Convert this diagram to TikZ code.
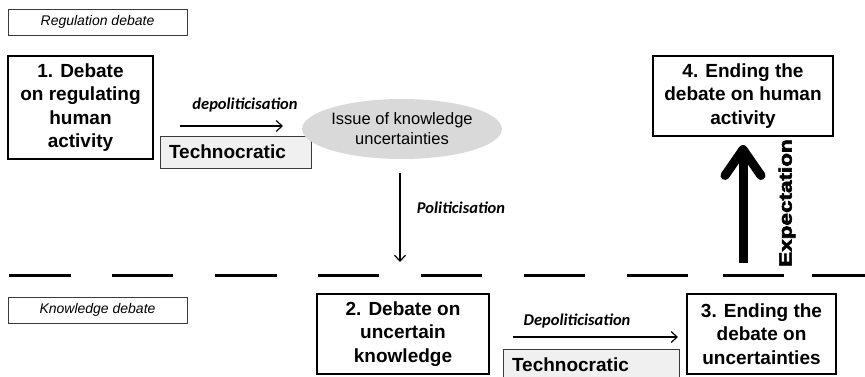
\documentclass[tikz,border=0pt]{standalone}
\usepackage{fontspec}
\setmainfont{Liberation Sans}
\newfontfamily\labelfont{Carlito}
\newfontfamily\heavyfont[FakeBold=3]{Liberation Sans Bold}
\usetikzlibrary{arrows.meta,shapes.geometric}
\definecolor{ellgray}{HTML}{D9D9D9}
\definecolor{techgray}{HTML}{F0F0F0}
\definecolor{edgegray}{HTML}{3A3A3A}
\tikzset{
  tagbox/.style={draw=edgegray,line width=1pt,minimum width=179pt,minimum height=26pt,inner sep=0pt,
    font=\fontsize{14}{16}\selectfont\itshape},
  stagebox/.style={draw=black,line width=2pt,inner sep=0pt,align=center,
    font=\fontsize{19}{23.5}\selectfont\bfseries},
  techbox/.style={draw=edgegray,fill=techgray,line width=1pt,minimum width=176pt,minimum height=32pt,
    inner xsep=9pt,inner ysep=0pt,text width=158pt,align=left,font=\fontsize{19}{22}\selectfont\bfseries},
  issue/.style={ellipse,fill=ellgray,minimum width=182pt,minimum height=60pt,inner sep=0pt,align=center,
    font=\fontsize{16.5}{20}\selectfont},
  proclabel/.style={inner sep=0pt,font=\labelfont\fontsize{16.5}{19}\selectfont\bfseries\itshape},
  thinarrow/.style={line width=1.2pt,-{Straight Barb[length=6pt,width=11pt]}},
  bigarrow/.style={line width=9pt,-{Straight Barb[length=26pt,width=36pt,round]}},
  dashseg/.style={line width=3pt}
}
\begin{document}
\begin{tikzpicture}[x=1pt,y=-1pt]
\clip (0,0) rectangle (865,376);
\fill[white] (0,0) rectangle (865,376);
% level labels
\node[tagbox] (reg) at (97.5,22) {Regulation debate};
\node[tagbox] (know) at (97.5,310) {Knowledge debate};
% stage boxes
\node[stagebox,line width=2.5pt,minimum width=145pt,minimum height=103pt] (b1) at (80.5,107.5)
  {1. Debate\\on regulating\\human\\activity};
\node[stagebox,minimum width=180pt,minimum height=80pt] (b4) at (743,96)
  {4. Ending the\\debate on human\\activity};
\node[stagebox,minimum width=172pt,minimum height=80pt] (b2) at (403,334)
  {2. Debate on\\uncertain\\knowledge};
\node[stagebox,minimum width=149pt,minimum height=80pt] (b3) at (761.5,334)
  {3. Ending the\\debate on\\uncertainties};
% technocratic boxes
\node[techbox,minimum width=151pt,text width=133pt] (t1) at (235.5,152) {Technocratic};
\node[techbox] (t2) at (591,365) {Technocratic};
% issue ellipse
\node[issue] (ell) at (402,129) {Issue of knowledge\\uncertainties};
% process labels
\node[proclabel] (l1) at (245,105) {depoliticisation};
\node[proclabel] (l2) at (461,208) {Politicisation};
\node[proclabel] (l3) at (577,321) {Depoliticisation};
\node[rotate=90,inner sep=0pt,font=\heavyfont\fontsize{18}{20}\selectfont] (l4) at (787,203)
  {\scalebox{1.25}[1]{Expectation}};
% dashed boundary
\foreach \a/\b in {9/71,112/173,215/277,318/379,421/482,524/585,627/688,723/784,812/865}
  \draw[dashseg] (\a,275) -- (\b,275);
% connectors
\coordinate (a1s) at (180,126);
\coordinate (a1e) at (283,126);
\draw[thinarrow] (a1s) -- (a1e);
\coordinate (a2s) at (400,173);
\coordinate (a2e) at (400,262);
\draw[thinarrow] (a2s) -- (a2e);
\coordinate (a3s) at (513,337);
\coordinate (a3e) at (678,337);
\draw[thinarrow] (a3s) -- (a3e);
\coordinate (a4s) at (743,263);
\draw[bigarrow] (a4s) -- ([yshift=-8pt]b4.south);
\end{tikzpicture}
\end{document}
